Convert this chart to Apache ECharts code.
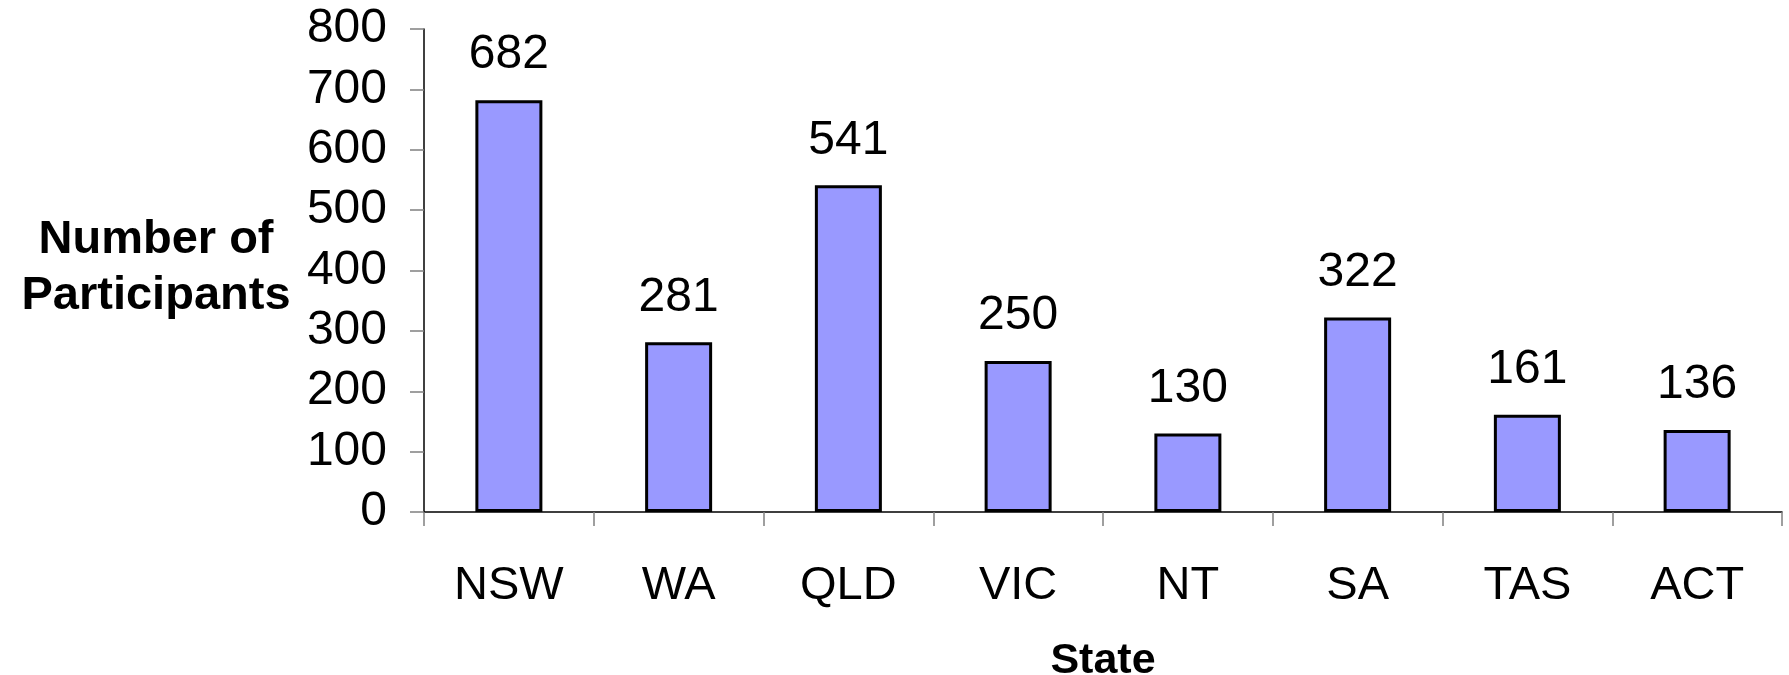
<!DOCTYPE html>
<html>
<head>
<meta charset="utf-8">
<script src="https://cdn.jsdelivr.net/npm/echarts@6/dist/echarts.min.js"></script>
<style>html,body{margin:0;padding:0;background:#fff;}#c{width:1789px;height:675px;}</style>
</head>
<body>
<div id="c"></div>
<script>
const categories = ['NSW', 'WA', 'QLD', 'VIC', 'NT', 'SA', 'TAS', 'ACT'];
const participants = [682, 281, 541, 250, 130, 322, 161, 136];
const yTicks = [0, 100, 200, 300, 400, 500, 600, 700, 800];
const yTitle = 'Number of\nParticipants';
const xTitle = 'State';

const FONT = '"Liberation Sans", Arial, sans-serif';
const chart = echarts.init(document.getElementById('c'));
chart.setOption({
  animation: false,
  backgroundColor: '#fff',
  grid: { left: 424, right: 7, top: 29, bottom: 163, containLabel: false, outerBoundsMode: 'none' },
  xAxis: {
    type: 'category',
    data: categories,
    axisLine: { lineStyle: { color: '#000', width: 1.5 } },
    axisTick: { show: true, length: 14, lineStyle: { color: '#808080', width: 1.5 } },
    axisLabel: { color: '#000', fontSize: 47, fontFamily: FONT, margin: 51 },
    name: xTitle,
    nameLocation: 'middle',
    nameGap: 128,
    nameTextStyle: { color: '#000', fontSize: 43, fontWeight: 'bold', fontFamily: FONT }
  },
  yAxis: {
    type: 'value',
    min: yTicks[0],
    max: yTicks[yTicks.length - 1],
    interval: yTicks[1] - yTicks[0],
    axisLine: { show: true, lineStyle: { color: '#000', width: 1.5 } },
    axisTick: { show: true, length: 14, lineStyle: { color: '#808080', width: 1.5 } },
    splitLine: { show: false },
    axisLabel: { color: '#000', fontSize: 48, fontFamily: FONT, margin: 37 }
  },
  graphic: [{
    type: 'text',
    x: 156,
    y: 212,
    style: {
      text: yTitle,
      align: 'center',
      verticalAlign: 'top',
      fill: '#000',
      font: 'bold 47px ' + FONT,
      lineHeight: 56
    },
    silent: true
  }],
  series: [{
    type: 'bar',
    data: participants,
    barWidth: 67,
    itemStyle: { color: '#9999FF', borderColor: '#000', borderWidth: 3 },
    label: {
      show: true,
      position: 'top',
      distance: 21,
      color: '#000',
      fontSize: 48,
      fontFamily: FONT
    }
  }]
});
</script>
</body>
</html>
